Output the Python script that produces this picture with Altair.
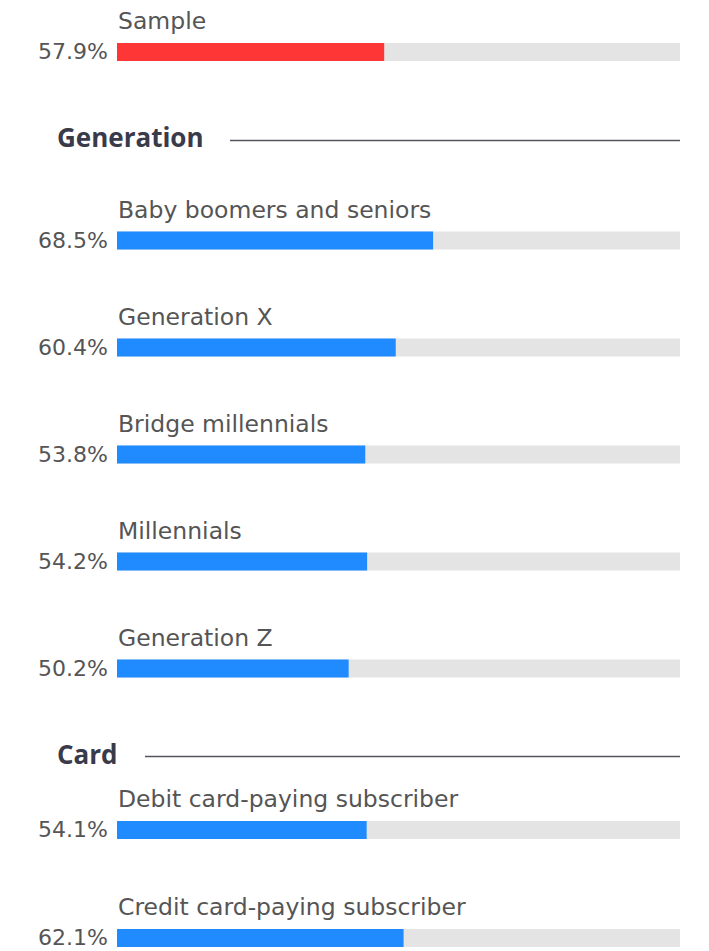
import altair as alt
import pandas as pd

# ---------------- data ----------------
sample_labels = ["Sample"]
sample_values = [57.9]

generation_labels = [
    "Baby boomers and seniors",
    "Generation X",
    "Bridge millennials",
    "Millennials",
    "Generation Z",
]
generation_values = [68.5, 60.4, 53.8, 54.2, 50.2]

card_labels = ["Debit card-paying subscriber", "Credit card-paying subscriber"]
card_values = [54.1, 62.1]

section_titles = ["Generation", "Card"]

X_MAX = 122  # full length of the grey track in value units

# ---------------- style ----------------
W = 563
FONT = "DejaVu Sans"
TEXT = "#555555"
HEAD = "#393a4a"
LINE = "#55555f"
TRACK = "#e4e4e4"
RED = "#ff3636"
BLUE = "#1f8bff"

x_scale = alt.Scale(domain=[0, X_MAX], nice=False, zero=True)


def rows_panel(labels, values, color, step, anchor=False):
    df = pd.DataFrame({"label": labels, "value": values})
    df["pct"] = df["value"].map(lambda v: f"{v:.1f}%")
    y = alt.Y("label:N", sort=labels, axis=None,
              scale=alt.Scale(paddingInner=0, paddingOuter=0))
    base = alt.Chart(df).transform_calculate(xmax=str(X_MAX))
    track = base.mark_bar(color=TRACK, size=18).encode(
        x=alt.X("xmax:Q", scale=x_scale, axis=None), y=y)
    bar = base.mark_bar(color=color, size=18).encode(
        x=alt.X("value:Q", scale=x_scale, axis=None), y=y)
    pct = base.mark_text(align="right", baseline="middle", dx=-9, font=FONT,
                         fontSize=22, fontWeight="normal", color=TEXT).encode(
        x=alt.value(0), y=y, text="pct:N")
    lab = base.mark_text(align="left", baseline="middle", dy=-30, dx=1, font=FONT,
                         fontSize=23.5, fontWeight="normal", color=TEXT).encode(
        x=alt.value(0), y=y, text="label:N")
    layers = [track, bar, pct, lab]
    if anchor:
        layers.append(base.mark_rule(strokeOpacity=0).encode(
            x=alt.value(-117), x2=alt.value(-116), y=alt.value(20)))
    return alt.layer(*layers).properties(width=W, height=step * len(labels))


def header_panel(title, line_start, height, text_y, line_y):
    df = pd.DataFrame({"title": [title]})
    base = alt.Chart(df)
    txt = base.mark_text(align="left", baseline="middle", font="Open Sans",
                         fontWeight="bold", fontSize=26, color=HEAD).encode(
        x=alt.value(-60), y=alt.value(text_y), text="title:N")
    rule = base.mark_rule(color=LINE, strokeWidth=1.5).encode(
        x=alt.value(line_start), x2=alt.value(W), y=alt.value(line_y))
    return alt.layer(txt, rule).properties(width=W, height=height)


sample = rows_panel(sample_labels, sample_values, RED, 104, anchor=True)
gen_head = header_panel(section_titles[0], 113, 82.5, 35, 36.5)
gen_rows = rows_panel(generation_labels, generation_values, BLUE, 107)
card_head = header_panel(section_titles[1], 28, 53.5, 33.5, 34.5)
card_rows = rows_panel(card_labels, card_values, BLUE, 108)

chart = alt.vconcat(
    sample, gen_head, gen_rows, card_head, card_rows,
    spacing=0, bounds="flush",
).properties(
    padding={"left": 0, "top": 0, "right": 5, "bottom": 0},
    background="white",
).configure_view(stroke=None)

chart.save("out.html", embed_options={"renderer": "svg", "actions": False})
